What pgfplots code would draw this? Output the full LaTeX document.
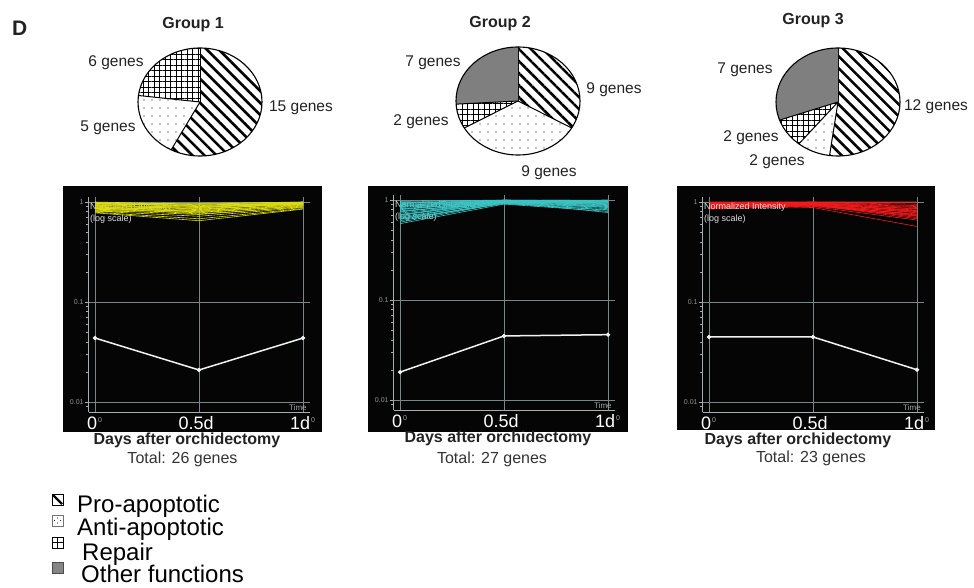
\documentclass[border=0pt]{standalone}
\usepackage{fontspec}
\setmainfont{Liberation Sans}
\usepackage{pgfplots}
\usepackage{pgfplotstable}
\pgfplotsset{compat=1.18}
\usetikzlibrary{patterns.meta}

\definecolor{gridc}{HTML}{758787}
\definecolor{axc}{HTML}{A4B0B0}
\definecolor{ylw}{HTML}{DCDC14}
\definecolor{cyn}{HTML}{3CC4C4}
\definecolor{rd}{HTML}{F21A1A}
\definecolor{txt}{HTML}{222222}

% normalized intensity of each gene (columns) at 0, 0.5 and 1 day; "mean" is the group profile
\pgfplotstableread{
t   g1   g2   g3   g4   g5   g6   g7   g8   g9   g10  g11  g12  g13  g14  g15  g16  g17  g18  g19  g20  g21  g22  g23  g24  g25  g26  mean
0   1.00 0.98 0.97 0.95 0.94 0.93 0.92 0.90 0.89 0.88 0.87 0.86 0.85 0.84 0.83 0.82 0.81 0.80 0.79 0.78 0.96 0.99 0.91 0.93 0.88 0.97 0.0436
0.5 0.95 0.92 0.90 0.93 0.88 0.85 0.89 0.87 0.82 0.84 0.80 0.90 0.78 0.86 0.75 0.81 0.72 0.83 0.68 0.65 0.97 0.94 0.79 0.96 0.76 0.91 0.0209
1   1.00 0.99 0.98 0.97 0.99 0.96 0.95 1.00 0.94 0.97 0.93 0.98 0.92 0.96 0.90 0.95 0.88 0.99 0.86 0.85 1.00 0.96 0.91 0.98 0.89 0.94 0.0436
}\grpone

\pgfplotstableread{
t   g1   g2   g3   g4   g5   g6   g7   g8   g9   g10  g11  g12  g13  g14  g15  g16  g17  g18  g19  g20  g21  g22  g23  g24  g25  g26  g27  mean
0   0.97 0.95 0.93 0.90 0.88 0.86 0.84 0.82 0.80 0.78 0.76 0.74 0.72 0.70 0.68 0.66 0.64 0.62 0.60 0.58 0.92 0.87 0.81 0.77 0.71 0.65 0.94 0.0190
0.5 1.00 0.99 0.98 0.97 0.99 0.96 0.98 0.95 0.97 0.94 0.99 0.96 0.93 0.98 0.95 0.97 0.92 0.96 0.94 0.91 1.00 0.97 0.98 0.95 0.99 0.93 0.96 0.0437
1   0.99 0.97 0.95 0.93 0.98 0.90 0.96 0.88 0.94 0.85 1.00 0.92 0.82 0.97 0.87 0.95 0.80 0.91 0.84 0.77 0.98 0.93 0.89 0.86 0.96 0.79 0.75 0.0450
}\grptwo

\pgfplotstableread{
t   g1   g2   g3   g4   g5   g6   g7   g8   g9   g10  g11  g12  g13  g14  g15  g16  g17  g18  g19  g20  g21  g22  g23  mean
0   1.00 0.99 0.98 0.97 0.96 0.95 0.94 0.93 0.92 0.91 0.90 0.89 0.88 0.87 0.86 0.85 0.97 0.95 0.93 0.99 0.91 0.89 0.96 0.0447
0.5 1.00 0.99 0.98 0.97 0.96 0.98 0.95 0.97 0.94 0.96 0.93 0.95 0.92 0.94 0.91 0.90 0.99 0.88 0.97 1.00 0.93 0.95 0.96 0.0447
1   0.98 0.95 0.90 0.85 0.82 0.88 0.78 0.80 0.75 0.83 0.72 0.70 0.76 0.68 0.73 0.66 0.92 0.57 0.86 1.00 0.79 0.74 0.81 0.0210
}\grpthree

\tikzset{
  pro/.style={pattern={Lines[angle=-45,distance=8.5pt,line width=2.6pt]},pattern color=black},
  anti/.style={pattern={Dots[distance=8pt,radius=0.7pt]},pattern color=black},
  rep/.style={pattern={Hatch[angle=0,distance=5.5pt,line width=1pt]},pattern color=black},
  oth/.style={fill=black!48,postaction={pattern={Dots[distance=2pt,radius=0.45pt]},pattern color=black!75}},
}

% one wedge of a pie: start angle, end angle, fill style
\newcommand\slice[3]{%
  \path[#3] (axis cs:0,0) -- (axis cs:{cos(#1)},{sin(#1)})
    arc[start angle=#1,end angle=#2,x radius=62pt,y radius=54pt] -- cycle;
  \draw[line width=1pt] (axis cs:0,0) -- (axis cs:{cos(#1)},{sin(#1)});}
\newcommand\rim{\draw[line width=1.1pt] (axis cs:0,0) ellipse[x radius=62pt,y radius=54pt];}

\pgfplotsset{
  pieaxis/.style={anchor=center,scale only axis,width=124pt,height=108pt,
    xmin=-1,xmax=1,ymin=-1,ymax=1,hide axis,clip=false},
  tcaxis/.style={anchor=south west,scale only axis,width=221.3pt,height=214.9pt,
    xmin=-0.03,xmax=1.034,ymin=0.00794,ymax=1.12,
    axis lines*=left,axis line style={axc,line width=0.9pt,-},
    grid=major,major grid style={gridc,line width=0.5pt},
    xtick={0,0.5,1},xticklabels={0,0.5d,1d},xtick style={draw=none},
    ytick={0.01,0.1,1},yticklabels={0.01,0.1,1},
    minor ytick={0.009,0.02,0.03,0.04,0.05,0.06,0.07,0.08,0.09,0.2,0.3,0.4,0.5,0.6,0.7,0.8,0.9},
    ytick style={axc,line width=0.5pt},
    tick align=outside,major tick length=4pt,minor tick length=2.5pt,
    yticklabel style={font=\fontsize{7}{7}\selectfont,text=gray!85,inner sep=1pt},
    xticklabel style={font=\fontsize{18}{18}\selectfont,text=white,xshift=-3pt,yshift=3pt},
    clip=false},
}
\tikzset{
  gene/.style={line width=0.6pt},
  avg/.style={white!90!gray,line width=1.5pt,mark=*,mark size=1.3pt},
}

\newcommand\paneltext{%
  \node[font=\fontsize{9}{12}\selectfont,text=white!75!gray,anchor=north west,align=left,inner sep=0pt]
    at (rel axis cs:0.005,0.975) {Normalized Intensity\\(log scale)};
  \node[font=\fontsize{8}{8}\selectfont,text=gray!70,anchor=south east,inner sep=1pt]
    at (rel axis cs:0.99,0.0) {Time};
  \node[font=\fontsize{7}{7}\selectfont,text=gray!70,anchor=north west,inner sep=0pt]
    at ([xshift=3pt,yshift=-5pt]axis cs:0,0.00794) {0};
  \node[font=\fontsize{7}{7}\selectfont,text=gray!70,anchor=north west,inner sep=0pt]
    at ([xshift=8pt,yshift=-5pt]axis cs:1,0.00794) {0};}

\begin{document}
\begin{tikzpicture}
\path[use as bounding box] (0,0) rectangle (974pt,-588pt);

\node[font=\fontsize{21}{21}\selectfont\bfseries,anchor=base west,inner sep=0pt,text=txt] at (12pt,-36pt) {D};

% ---------- pies ----------
\node[font=\fontsize{16}{16}\selectfont\bfseries,anchor=base,text=txt] at (193pt,-29pt) {Group 1};
\node[font=\fontsize{16}{16}\selectfont\bfseries,anchor=base,text=txt] at (500pt,-28pt) {Group 2};
\node[font=\fontsize{16}{16}\selectfont\bfseries,anchor=base,text=txt] at (813pt,-25pt) {Group 3};

\begin{axis}[pieaxis,at={(200pt,-102pt)}]
  \slice{90}{90-360*15/26}{pro}
  \slice{90-360*15/26}{90-360*20/26}{anti}
  \slice{90-360*20/26}{90-360*26/26}{rep}
  \rim
\end{axis}
\begin{axis}[pieaxis,at={(518pt,-101pt)}]
  \slice{90}{90-360*9/27}{pro}
  \slice{90-360*9/27}{90-360*18/27}{anti}
  \slice{90-360*18/27}{90-360*20/27}{rep}
  \slice{90-360*20/27}{90-360*27/27}{oth}
  \rim
\end{axis}
\begin{axis}[pieaxis,at={(838pt,-102pt)}]
  \slice{90}{90-360*12/23}{pro}
  \slice{90-360*12/23}{90-360*14/23}{anti}
  \slice{90-360*14/23}{90-360*16/23}{rep}
  \slice{90-360*16/23}{90-360*23/23}{oth}
  \rim
\end{axis}

\begin{scope}[every node/.style={font=\fontsize{15.5}{15.5}\selectfont,text=txt,inner sep=0pt}]
  \node at (116pt,-63pt) {6 genes};
  \node at (301pt,-108pt) {15 genes};
  \node at (108pt,-128pt) {5 genes};
  \node at (433pt,-63pt) {7 genes};
  \node at (614pt,-90pt) {9 genes};
  \node at (421pt,-122pt) {2 genes};
  \node at (549pt,-173pt) {9 genes};
  \node at (745pt,-70pt) {7 genes};
  \node at (936pt,-107pt) {12 genes};
  \node at (751pt,-138pt) {2 genes};
  \node at (777pt,-162pt) {2 genes};
\end{scope}

% ---------- time-course panels ----------
\fill[black!98] (63pt,-186pt) rectangle (322pt,-432pt);
\fill[black!98] (368pt,-186pt) rectangle (628pt,-432pt);
\fill[black!98] (677pt,-186pt) rectangle (935pt,-430pt);

\begin{axis}[tcaxis,ymode=log,at={(88.8pt,-412pt)}]
  \paneltext
  \pgfplotsinvokeforeach{1,...,26}{\addplot[gene,ylw] table[x=t,y=g#1]{\grpone};}
  \addplot[avg] table[x=t,y=mean]{\grpone};
\end{axis}
\begin{axis}[tcaxis,ymode=log,at={(393.8pt,-410pt)}]
  \paneltext
  \pgfplotsinvokeforeach{1,...,27}{\addplot[gene,cyn] table[x=t,y=g#1]{\grptwo};}
  \addplot[avg] table[x=t,y=mean]{\grptwo};
\end{axis}
\begin{axis}[tcaxis,ymode=log,at={(702.8pt,-412pt)}]
  \pgfplotsinvokeforeach{1,...,23}{\addplot[gene,rd] table[x=t,y=g#1]{\grpthree};}
  \addplot[avg] table[x=t,y=mean]{\grpthree};
  \paneltext
\end{axis}

\begin{scope}[every node/.style={inner sep=0pt,text=txt}]
  \node[font=\fontsize{16}{16}\selectfont\bfseries] at (187pt,-440pt) {Days after orchidectomy};
  \node[font=\fontsize{16}{16}\selectfont\bfseries] at (498pt,-438pt) {Days after orchidectomy};
  \node[font=\fontsize{16}{16}\selectfont\bfseries] at (798pt,-440pt) {Days after orchidectomy};
  \node[font=\fontsize{16}{16}\selectfont,text=black!80] at (182.5pt,-459pt) {Total: 26 genes};
  \node[font=\fontsize{16}{16}\selectfont,text=black!80] at (492pt,-459pt) {Total: 27 genes};
  \node[font=\fontsize{16}{16}\selectfont,text=black!80] at (811pt,-458pt) {Total: 23 genes};
\end{scope}

% ---------- key ----------
\draw[line width=0.9pt] (52pt,-494pt) rectangle (63pt,-505pt);
\draw[line width=2.2pt] (53pt,-495pt) -- (62pt,-504pt);
\fill (52pt,-494pt) -- (56pt,-494pt) -- (52pt,-498pt) -- cycle;
\draw[line width=0.7pt,black!55] (52pt,-515pt) rectangle (63pt,-526pt);
\fill[black!80] (57.5pt,-518pt) circle (0.6pt) (57.5pt,-523pt) circle (0.6pt) (54.5pt,-520.5pt) circle (0.6pt) (60.5pt,-520.5pt) circle (0.6pt);
\draw[line width=1pt] (52pt,-537pt) rectangle (63pt,-548pt);
\draw[line width=1.2pt] (57.5pt,-537pt) -- (57.5pt,-548pt) (52pt,-542.5pt) -- (63pt,-542.5pt);
\fill[black!48] (52pt,-562pt) rectangle (63pt,-573pt);
\draw[line width=0.6pt,black!70] (52pt,-562pt) rectangle (63pt,-573pt);

\begin{scope}[every node/.style={font=\fontsize{24}{24}\selectfont,anchor=base west,inner sep=0pt,text=black}]
  \node at (77pt,-512pt) {Pro-apoptotic};
  \node at (77pt,-535pt) {Anti-apoptotic};
  \node at (82pt,-560pt) {Repair};
  \node at (81pt,-582pt) {Other functions};
\end{scope}
\end{tikzpicture}
\end{document}
